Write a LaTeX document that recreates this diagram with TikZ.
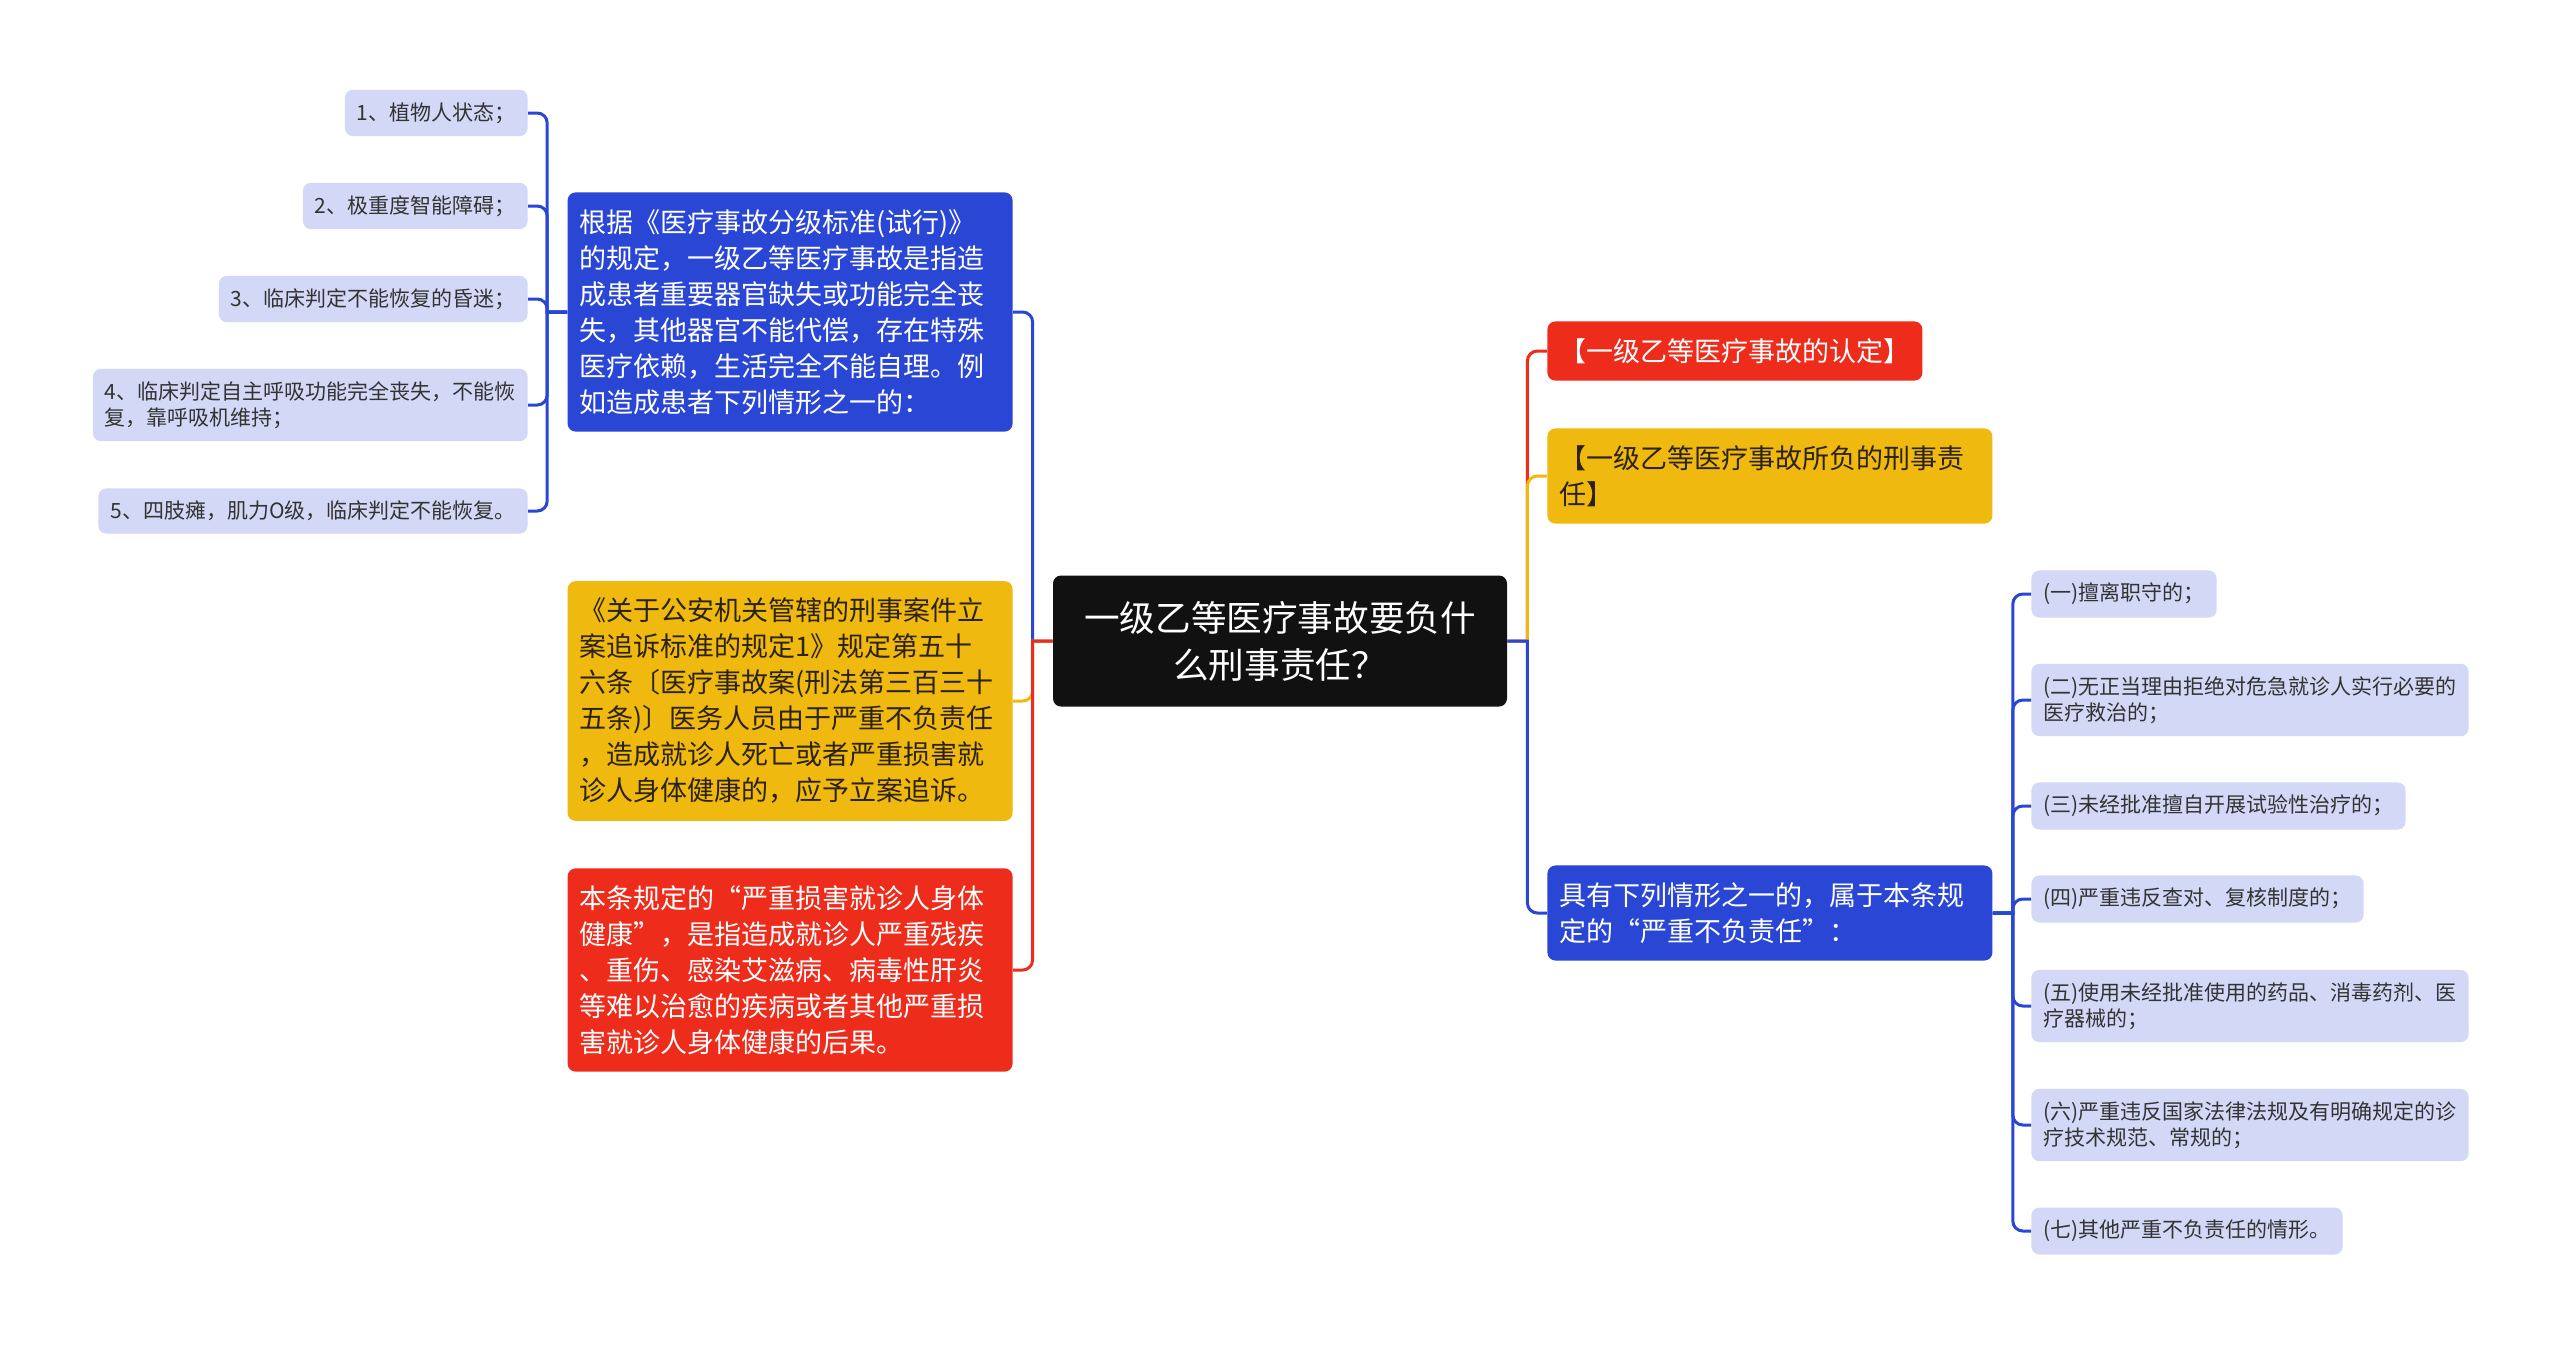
\documentclass[tikz,border=0pt]{standalone}
\usepackage{fontspec}
\setmainfont{Noto Sans CJK SC}
\definecolor{rootblack}{HTML}{111111}
\definecolor{mapblue}{HTML}{2A46D4}
\definecolor{mapred}{HTML}{EE2C1C}
\definecolor{mapyellow}{HTML}{F0B90F}
\definecolor{leaffill}{HTML}{D3D8F7}
\definecolor{leaftext}{HTML}{333333}
\definecolor{yellowtext}{HTML}{2B2210}

\begin{document}
\begin{tikzpicture}[x=0.5pt,y=-0.5pt,
        root/.style={fill=rootblack,text=white,rounded corners=4pt,align=center,
                minimum width=227pt,minimum height=65.5pt,font=\fontsize{17.8}{23.5}\selectfont},
        topic/.style={rounded corners=4pt,align=left,inner xsep=6pt,inner ysep=8.5pt,
                font=\fontsize{13.5}{18}\selectfont},
        wide/.style={text width=210.5pt},
        leaf/.style={fill=leaffill,text=leaftext,rounded corners=4pt,align=left,
                inner xsep=6pt,inner ysep=6.3pt,font=\fontsize{10.5}{13}\selectfont},
        link/.style={line width=1.5pt}] %Mind map, root in the middle
        \fill[white] (0,0) rectangle (2560,1346);
        \node[root] (root) at (1280,641) {一级乙等医疗事故要负什\\么刑事责任？};
        \node[topic,wide,fill=mapblue,text=white,anchor=east] (l1) at (1013,312)
                {根据《医疗事故分级标准(试行)》\\的规定，一级乙等医疗事故是指造\\成患者重要器官缺失或功能完全丧\\失，其他器官不能代偿，存在特殊\\医疗依赖，生活完全不能自理。例\\如造成患者下列情形之一的：};
        \node[topic,wide,fill=mapyellow,text=yellowtext,anchor=east] (l2) at (1013,701)
                {《关于公安机关管辖的刑事案件立\\案追诉标准的规定1》规定第五十\\六条〔医疗事故案(刑法第三百三十\\五条)〕医务人员由于严重不负责任\\，造成就诊人死亡或者严重损害就\\诊人身体健康的，应予立案追诉。};
        \node[topic,wide,fill=mapred,text=white,anchor=east] (l3) at (1013,970)
                {本条规定的“严重损害就诊人身体\\健康”，是指造成就诊人严重残疾\\、重伤、感染艾滋病、病毒性肝炎\\等难以治愈的疾病或者其他严重损\\害就诊人身体健康的后果。};
        \node[topic,fill=mapred,text=white,anchor=west] (r1) at (1547,351) {【一级乙等医疗事故的认定】};
        \node[topic,wide,fill=mapyellow,text=yellowtext,anchor=west] (r2) at (1547,476)
                {【一级乙等医疗事故所负的刑事责\\任】};
        \node[topic,wide,fill=mapblue,text=white,anchor=west] (r3) at (1547,913)
                {具有下列情形之一的，属于本条规\\定的“严重不负责任”：};
        \node[leaf,anchor=east] (a1) at (528,113) {1、植物人状态；};
        \node[leaf,anchor=east] (a2) at (528,206) {2、极重度智能障碍；};
        \node[leaf,anchor=east] (a3) at (528,299) {3、临床判定不能恢复的昏迷；};
        \node[leaf,anchor=east] (a4) at (528,405) {4、临床判定自主呼吸功能完全丧失，不能恢\\复，靠呼吸机维持；};
        \node[leaf,anchor=east] (a5) at (528,511) {5、四肢瘫，肌力O级，临床判定不能恢复。};
        \node[leaf,anchor=west] (b1) at (2031,594) {(一)擅离职守的；};
        \node[leaf,anchor=west] (b2) at (2031,700) {(二)无正当理由拒绝对危急就诊人实行必要的\\医疗救治的；};
        \node[leaf,anchor=west] (b3) at (2031,806) {(三)未经批准擅自开展试验性治疗的；};
        \node[leaf,anchor=west] (b4) at (2031,899) {(四)严重违反查对、复核制度的；};
        \node[leaf,anchor=west] (b5) at (2031,1006) {(五)使用未经批准使用的药品、消毒药剂、医\\疗器械的；};
        \node[leaf,anchor=west] (b6) at (2031,1125) {(六)严重违反国家法律法规及有明确规定的诊\\疗技术规范、常规的；};
        \node[leaf,anchor=west] (b7) at (2031,1231) {(七)其他严重不负责任的情形。};
        \draw[link,mapblue] (root.west) -- ++(-20,0) [rounded corners=5pt] |- (l1.east);
        \draw[link,mapyellow] (root.west) -- ++(-20,0) [rounded corners=5pt] |- (l2.east);
        \draw[link,mapred] (root.west) -- ++(-20,0) [rounded corners=5pt] |- (l3.east);
        \draw[link,mapred] (root.east) -- ++(20,0) [rounded corners=5pt] |- (r1.west);
        \draw[link,mapyellow] (root.east) -- ++(20,0) [rounded corners=5pt] |- (r2.west);
        \draw[link,mapblue] (root.east) -- ++(20,0) [rounded corners=5pt] |- (r3.west);
        \draw[link,mapblue] (l1.west) -- ++(-20,0) [rounded corners=5pt] |- (a1.east);
        \draw[link,mapblue] (l1.west) -- ++(-20,0) [rounded corners=5pt] |- (a2.east);
        \draw[link,mapblue] (l1.west) -- ++(-20,0) [rounded corners=5pt] |- (a3.east);
        \draw[link,mapblue] (l1.west) -- ++(-20,0) [rounded corners=5pt] |- (a4.east);
        \draw[link,mapblue] (l1.west) -- ++(-20,0) [rounded corners=5pt] |- (a5.east);
        \draw[link,mapblue] (r3.east) -- ++(20,0) [rounded corners=5pt] |- (b1.west);
        \draw[link,mapblue] (r3.east) -- ++(20,0) [rounded corners=5pt] |- (b2.west);
        \draw[link,mapblue] (r3.east) -- ++(20,0) [rounded corners=5pt] |- (b3.west);
        \draw[link,mapblue] (r3.east) -- ++(20,0) [rounded corners=5pt] |- (b4.west);
        \draw[link,mapblue] (r3.east) -- ++(20,0) [rounded corners=5pt] |- (b5.west);
        \draw[link,mapblue] (r3.east) -- ++(20,0) [rounded corners=5pt] |- (b6.west);
        \draw[link,mapblue] (r3.east) -- ++(20,0) [rounded corners=5pt] |- (b7.west);
\end{tikzpicture}
\end{document}
